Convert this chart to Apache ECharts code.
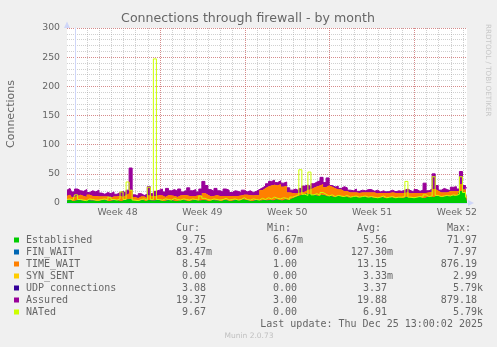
<!DOCTYPE html>
<html><head><meta charset="utf-8">
<script src="https://cdn.jsdelivr.net/npm/echarts@6/dist/echarts.min.js"></script>
<style>html,body{margin:0;padding:0;background:#F0F0F0}#c{width:497px;height:347px}</style>
</head><body><div id="c"></div>
<script>
// ---- axis / tick data ----
const START_HOUR = -16;   // hours relative to Sun Nov 23 00:00 (start of Week 48)
const END_HOUR = 776;
const STEP_HOURS = 6;
const weekLabels = ['Week 48', 'Week 49', 'Week 50', 'Week 51', 'Week 52'];
const weekCenters = [84, 252, 420, 588, 756];
const weekStarts = [0, 168, 336, 504, 672];
const yTickLabels = [0, 50, 100, 150, 200, 250, 300];

// ---- series values (one sample per 6 hours) ----
const established = [4,5,3,4,5,4,3,5,4,4,
 3,4,5,4,3,4,5,4,3,5,
 6,7,4,3,4,5,3,5,4,4,
 5,4,3,4,5,4,3,4,5,4,
 3,4,5,4,4,5,4,3,5,4,
 4,3,5,4,3,4,5,4,6,5,
 4,3,4,5,4,5,4,5,4,6,
 5,4,6,5,7,9,11,13,14,16,
 15,14,13,12,14,13,11,12,10,11,
 12,10,11,9,10,11,9,10,11,9,
 10,9,8,9,10,8,9,10,8,9,
 9,8,10,9,8,9,10,9,8,10,
 11,10,12,11,10,12,11,13,12,14,
 20,17,12];
const finWait = [0.1,0,0.2,0.1,0,0.1,0.2,0,0.1,0.1,
 0.1,0,0.2,0.1,0,0.1,0.2,0,0.1,0.1,
 0.1,0,0.2,0.1,0,0.1,0.2,0,0.1,0.1,
 0.1,0,0.2,0.1,0,0.1,0.2,0,0.1,0.1,
 0.1,0,0.2,0.1,0,0.1,0.2,0,0.1,0.1,
 0.1,0,0.2,0.1,0,0.1,0.2,0,0.1,0.1,
 0.1,0,0.2,0.1,0,0.1,0.2,0,0.1,0.1,
 0.1,0,0.2,0.1,0,0.1,0.2,0,0.1,0.1,
 0.1,0,0.2,0.1,0,0.1,0.2,0,0.1,0.1,
 0.1,0,0.2,0.1,0,0.1,0.2,0,0.1,0.1,
 0.1,0,0.2,0.1,0,0.1,0.2,0,0.1,0.1,
 0.1,0,0.2,0.1,0,0.1,0.2,0,0.1,0.1,
 0.1,0,0.2,0.1,0,0.1,0.2,0,0.1,0.1,
 0.1,0,0.1];
const timeWait = [8,9,7,8,9,8,7,9,8,8,
 8,7,6,7,6,7,6,8,7,8,
 10,15,6,5,7,6,5,8,7,8,
 8,9,7,9,8,8,7,9,8,9,
 9,8,7,9,8,12,10,8,7,9,
 8,9,7,8,9,8,7,9,8,9,
 9,10,9,8,18,20,24,25,27,24,
 27,24,23,13,10,7,6,5,5,6,
 8,12,15,18,18,14,19,16,15,12,
 11,10,9,9,8,7,8,8,7,9,
 8,9,8,8,7,9,8,8,9,8,
 8,9,8,7,9,8,7,8,9,8,
 8,14,9,7,8,6,9,7,8,6,
 12,6,9];
const synSent = [0,0,0,0,0,0,0,0,0,0,
 0,0,0,0,0,0,0,0,0,0,
 0,0,0,0,0,0,0,0,0,0,
 0,0,0,0,0,0,0,0,0,0,
 0,0,0,0,0,0,0,0,0,0,
 0,0,0,0,0,0,0,0,0,0,
 0,0,0,0,0,0,0,0,0,0,
 0,0,0,0,0,0,0,0,0,0,
 0,0,0,0,0,0,0,0,0,0,
 0,0,0,0,0,0,0,0,0,0,
 0,0,0,0,0,0,0,0,0,0,
 0,0,0,0,0,0,0,0,0,0,
 0,0,0,0,0,0,0,0,0,0,
 0,0,0];
const udp = [2,1,2,3,2,1,2,2,3,2,
 2,3,1,2,2,3,2,1,2,3,
 2,4,2,1,2,2,3,2,1,3,
 2,2,3,1,2,2,3,2,2,1,
 3,2,2,1,2,3,2,2,3,2,
 1,2,3,2,2,1,2,3,2,2,
 2,3,2,1,2,2,3,2,2,3,
 2,2,1,3,2,2,3,2,2,1,
 3,2,2,3,2,2,1,2,3,2,
 2,1,2,3,2,2,3,2,1,2,
 2,3,2,2,1,3,2,2,3,2,
 1,2,2,3,2,2,1,2,3,2,
 2,3,2,2,1,3,2,2,3,2,
 3,2,2];
const assured = [22,25,19,24,21,20,23,18,21,19,
 22,17,15,18,16,19,15,18,20,17,
 22,60,14,12,16,13,15,28,16,20,
 22,24,19,25,21,23,20,24,19,22,
 26,21,23,19,24,37,30,23,20,25,
 21,19,24,22,18,21,20,18,22,19,
 21,18,20,23,26,29,33,37,39,35,
 38,34,36,26,22,24,21,25,29,31,
 28,33,36,38,44,35,43,30,27,29,
 25,28,26,22,21,24,20,22,21,23,
 23,20,22,19,21,18,20,22,19,21,
 20,22,24,21,19,23,20,22,34,21,
 24,50,30,22,25,23,21,27,28,24,
 54,30,26];
const nated = [6,7,5,14,6,5,4,7,6,5,
 5,6,7,5,10,6,5,7,19,6,
 36,22,5,4,6,7,5,27,6,247,
 6,5,7,6,5,8,6,5,7,6,
 5,7,6,5,12,8,6,5,7,6,
 5,6,8,5,6,7,5,6,9,6,
 5,7,6,5,8,6,9,7,10,8,
 7,9,8,6,10,12,14,57,15,13,
 53,14,16,13,18,15,12,14,11,13,
 12,11,13,10,11,12,10,11,12,10,
 11,10,9,10,12,9,10,11,9,10,
 10,11,37,10,9,10,11,10,14,11,
 12,45,13,11,12,13,12,14,13,15,
 45,18,10];

// ---- legend texts ----
const legendNames = ['Established', 'FIN_WAIT', 'TIME_WAIT', 'SYN_SENT', 'UDP connections', 'Assured', 'NATed'];
const legendColors = ['#00CC00', '#0066B3', '#FF8000', '#FFCC00', '#330099', '#990099', '#CCFF00'];
const curVals = ['9.75 ', '83.47m', '8.54 ', '0.00 ', '3.08 ', '19.37 ', '9.67 '];
const minVals = ['6.67m', '0.00 ', '1.00 ', '0.00 ', '0.00 ', '3.00 ', '0.00 '];
const avgVals = ['5.56 ', '127.30m', '13.15 ', '3.33m', '3.37 ', '19.88 ', '6.91 '];
const maxVals = ['71.97 ', '7.97 ', '876.19 ', '2.99 ', '5.79k', '879.18 ', '5.79k'];

// ---- build chart ----
const dayLines = [];
for (let h = 0; h <= END_HOUR; h += 24) dayLines.push(h);
const pts = vals => vals.map((v, i) => [START_HOUR + i * STEP_HOURS, v]);
// rrdtool-style STACK: each layer drawn from 0 up to the running total, later layers painted on top
const stackOrder = [established, finWait, timeWait, synSent, udp];
const cumulative = [];
stackOrder.forEach((arr, k) => {
  cumulative.push(arr.map((v, i) => v + (k ? cumulative[k - 1][i] : 0)));
});

const MAJOR = 'rgba(220,70,70,0.5)';
const MINOR = 'rgba(150,150,150,0.45)';
const AXIS = '#CFD6F8';
const FONT = '"DejaVu Sans", sans-serif';
const MONO = '"DejaVu Sans Mono", monospace';

function layer(name, vals, color, z) {
  return { name, type: 'line', step: 'middle', data: pts(vals),
    symbol: 'none', showSymbol: false, silent: true, z,
    lineStyle: { width: 0, color }, itemStyle: { color },
    areaStyle: { color, opacity: 1, origin: 'start' } };
}

const series = [
  layer('UDP connections', cumulative[4], '#330099', 1),
  { name: 'Assured', type: 'line', step: 'middle', data: pts(assured), symbol: 'none', silent: true, z: 2,
    lineStyle: { width: 1, color: '#990099' }, itemStyle: { color: '#990099' },
    areaStyle: { color: '#990099', opacity: 1, origin: 'start' } },
  layer('SYN_SENT', cumulative[3], '#FFCC00', 3),
  layer('TIME_WAIT', cumulative[2], '#FF8000', 4),
  layer('FIN_WAIT', cumulative[1], '#0066B3', 5),
  layer('Established', cumulative[0], '#00CC00', 6),
  { name: 'NATed', type: 'line', step: 'middle', data: pts(nated), symbol: 'none', silent: true, z: 7,
    lineStyle: { width: 1, color: '#CCFF00' }, itemStyle: { color: '#CCFF00' } }
];

const graphic = [
  { type: 'text', x: 248, y: 19, style: { text: 'Connections through firewall - by month', font: '12.6px ' + FONT, fill: '#666', align: 'center', verticalAlign: 'middle' } },
  { type: 'text', x: 11, y: 114, rotation: Math.PI / 2, style: { text: 'Connections', font: '11px ' + FONT, fill: '#666', align: 'center', verticalAlign: 'middle' } },
  { type: 'text', x: 488, y: 24, rotation: -Math.PI / 2, style: { text: 'RRDTOOL / TOBI OETIKER', font: '7.2px ' + FONT, fill: '#c8c8c8', align: 'left', verticalAlign: 'middle' } },
  // axis arrows
  { type: 'polygon', shape: { points: [[67, 21.5], [64, 28], [70, 28]] }, style: { fill: AXIS } },
  { type: 'polygon', shape: { points: [[474, 203], [468, 200], [468, 206]] }, style: { fill: AXIS } },
  { type: 'text', x: 176, y: 228, style: { text: 'Cur:', font: '10px ' + MONO, fill: '#666', align: 'left', verticalAlign: 'middle' } },
  { type: 'text', x: 267, y: 228, style: { text: 'Min:', font: '10px ' + MONO, fill: '#666', align: 'left', verticalAlign: 'middle' } },
  { type: 'text', x: 357, y: 228, style: { text: 'Avg:', font: '10px ' + MONO, fill: '#666', align: 'left', verticalAlign: 'middle' } },
  { type: 'text', x: 447, y: 228, style: { text: 'Max:', font: '10px ' + MONO, fill: '#666', align: 'left', verticalAlign: 'middle' } },
  { type: 'text', x: 483, y: 324, style: { text: 'Last update: Thu Dec 25 13:00:02 2025', font: '10px ' + MONO, fill: '#666', align: 'right', verticalAlign: 'middle' } },
  { type: 'text', x: 249, y: 336, style: { text: 'Munin 2.0.73', font: '7.5px ' + FONT, fill: '#c0c0c0', align: 'center', verticalAlign: 'middle' } }
];
legendNames.forEach((name, k) => {
  const y = 240 + k * 12;
  graphic.push({ type: 'rect', shape: { x: 14, y: y - 2.5, width: 5, height: 5 }, style: { fill: legendColors[k] } });
  graphic.push({ type: 'text', x: 26, y, style: { text: name, font: '10px ' + MONO, fill: '#666', align: 'left', verticalAlign: 'middle' } });
  [[curVals, 212], [minVals, 303], [avgVals, 393], [maxVals, 483]].forEach(([arr, xr]) => {
    graphic.push({ type: 'text', x: xr, y, style: { text: arr[k], font: '10px ' + MONO, fill: '#666', align: 'right', verticalAlign: 'middle', whiteSpace: 'pre' } });
  });
});

const chart = echarts.init(document.getElementById('c'), null, { renderer: 'canvas' });
chart.setOption({
  animation: false,
  backgroundColor: '#F0F0F0',
  grid: { left: 67, right: 30, top: 28, bottom: 144, show: true, backgroundColor: '#FFFFFF', borderWidth: 0 },
  xAxis: [{
    type: 'value', min: START_HOUR, max: END_HOUR,
    axisLine: { show: true, onZero: false, lineStyle: { color: AXIS } },
    axisTick: { show: false, customValues: dayLines },
    axisLabel: { customValues: weekCenters, formatter: v => weekLabels[weekCenters.indexOf(v)] || '', color: '#666', fontFamily: FONT, fontSize: 9.3, margin: 5 },
    splitLine: { show: true, lineStyle: { color: MINOR, type: [1, 1], width: 1 } }
  }, {
    type: 'value', min: START_HOUR, max: END_HOUR, position: 'bottom',
    axisLine: { show: false }, axisLabel: { show: false },
    axisTick: { show: false, customValues: weekStarts },
    splitLine: { show: true, lineStyle: { color: MAJOR, type: [1, 1], width: 1 } }
  }],
  yAxis: [{
    type: 'value', min: 0, max: 300, interval: 10,
    axisLine: { show: true, lineStyle: { color: AXIS } },
    axisTick: { show: false },
    axisLabel: { formatter: v => (yTickLabels.indexOf(v) >= 0 ? String(v) : ''), color: '#666', fontFamily: FONT, fontSize: 9.3, margin: 7 },
    splitLine: { show: true, lineStyle: { color: MINOR, type: [1, 1], width: 1 } }
  }, {
    type: 'value', min: 0, max: 300, interval: 50, position: 'left',
    axisLine: { show: false }, axisLabel: { show: false }, axisTick: { show: false },
    splitLine: { show: true, lineStyle: { color: MAJOR, type: [1, 1], width: 1 } }
  }],
  series,
  graphic
});
</script>
</body></html>
